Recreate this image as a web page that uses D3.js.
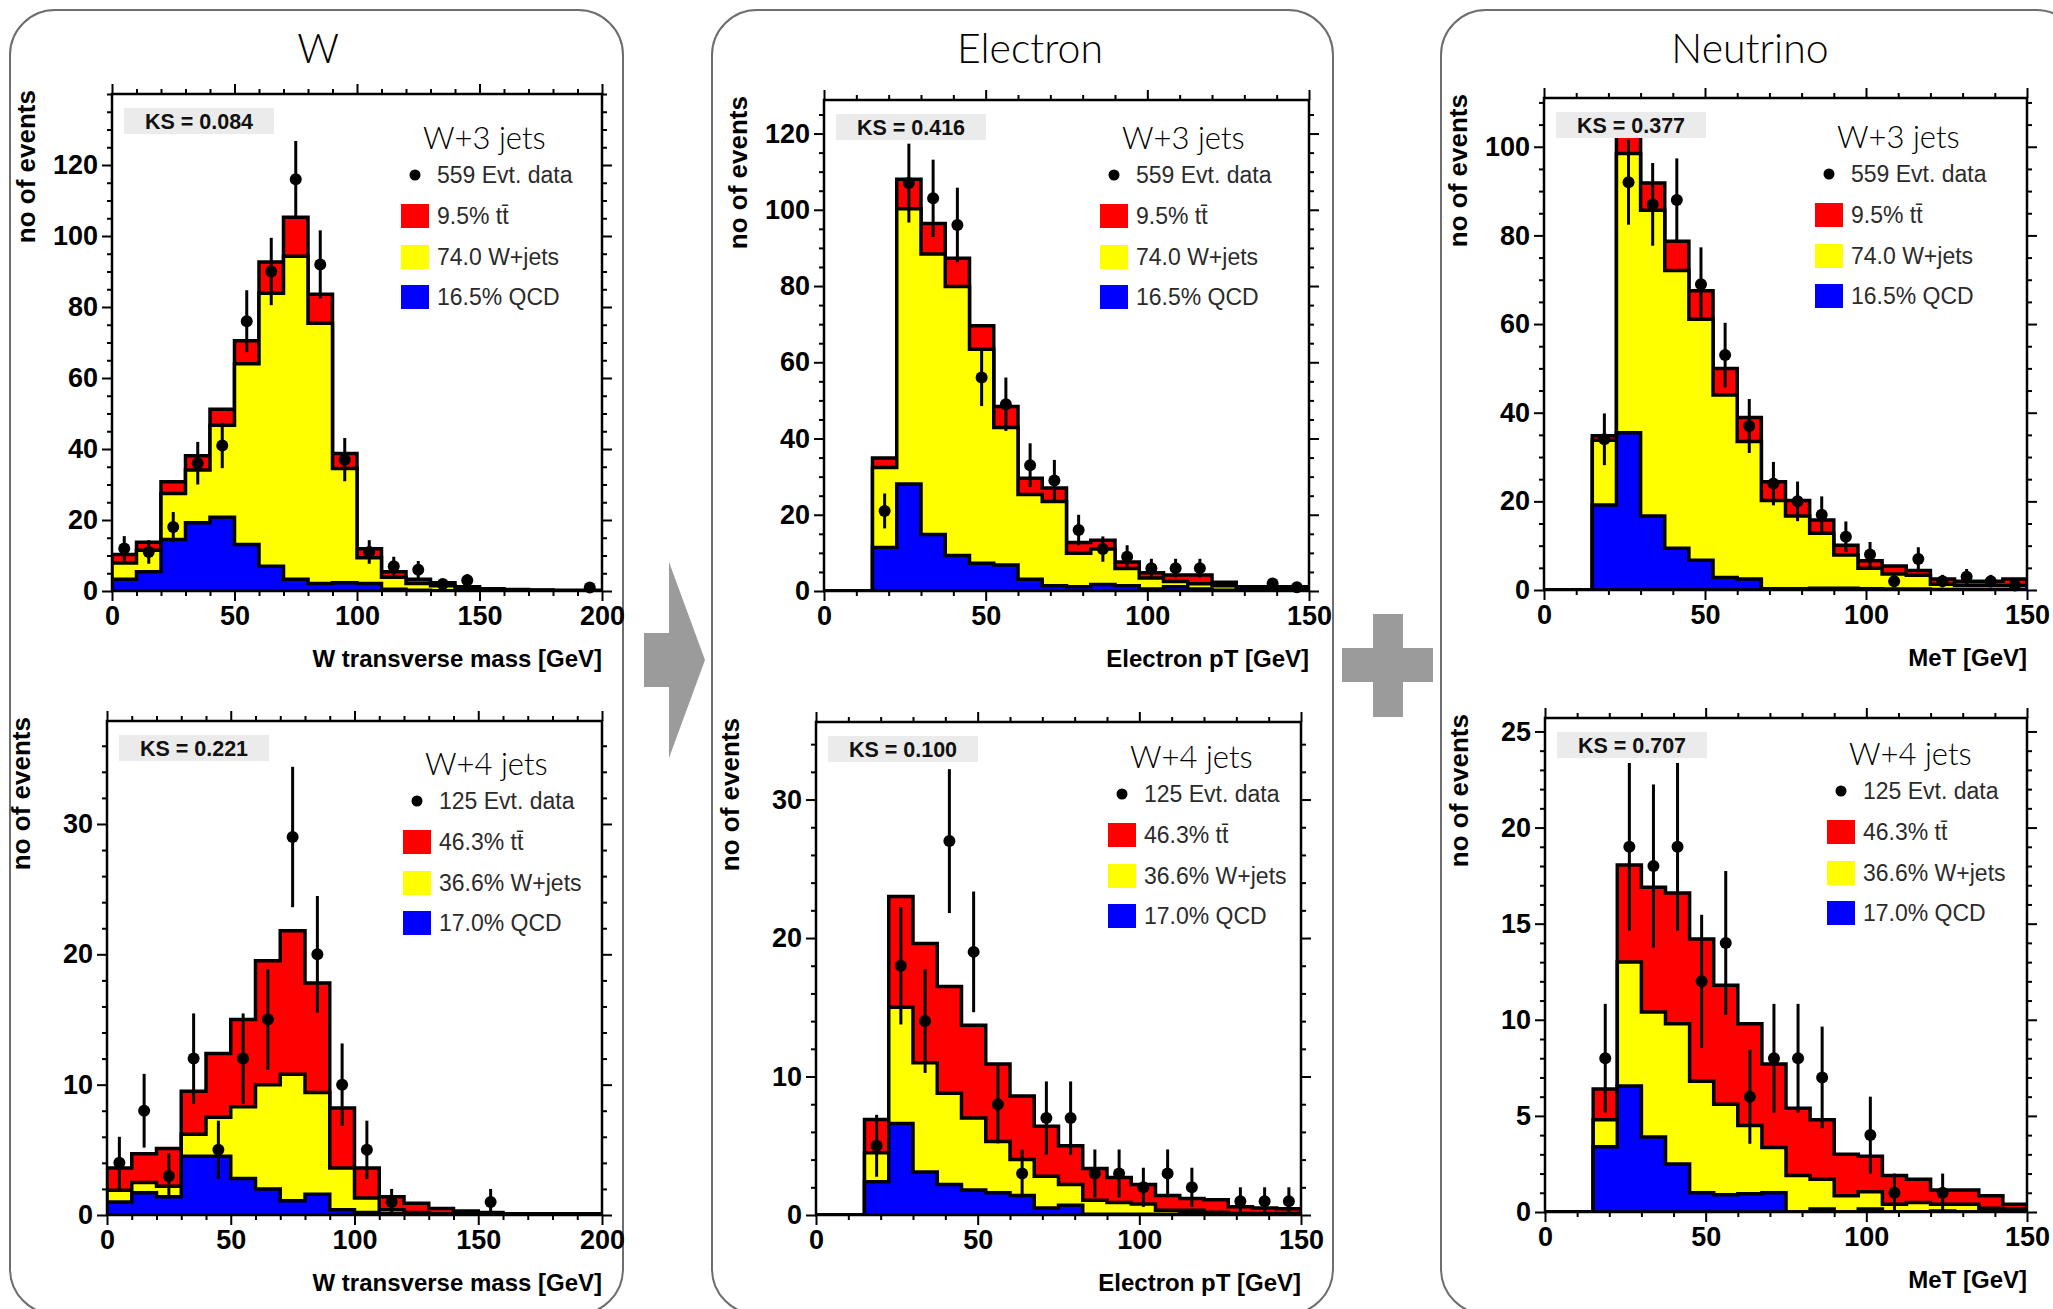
<!DOCTYPE html>
<html>
<head>
<meta charset="utf-8">
<script src="https://cdn.jsdelivr.net/npm/d3@7"></script>
<style>
  html, body { margin: 0; padding: 0; background: #fff; }
  svg { display: block; }
</style>
</head>
<body>
<svg id="chart" width="2053" height="1309"></svg>
<script>
// ---- bin edges (GeV) ----
const W_BINS  = [0,10,20,30,40,50,60,70,80,90,100,110,120,130,140,150,160,170,180,190,200];
const PT_BINS = [0,7.5,15,22.5,30,37.5,45,52.5,60,67.5,75,82.5,90,97.5,105,112.5,120,127.5,135,142.5,150];

// ---- W transverse mass, W+3 jets ----
const W3_QCD   = [3.3,5.4,14.5,19.2,20.8,13.1,7.0,3.3,2.1,2.3,2.1,0.5,0.2,0.1,0.1,0,0,0,0,0];
const W3_WJETS = [4.6,6.1,13.0,14.9,25.9,50.9,76.9,91.0,73.3,32.2,7.3,3.4,1.9,1.4,0.6,0.4,0.3,0.2,0.1,0.1];
const W3_TTBAR = [2.4,2.2,3.3,4.0,4.5,6.5,8.8,11.0,8.2,4.2,2.5,1.5,1.2,0.8,0.5,0.2,0.1,0.1,0.1,0.1];
const W3_DATA  = [12,11,18,36,41,76,90,116,92,37,11,7,6,2,3,0,0,0,0,1];

// ---- W transverse mass, W+4 jets ----
const W4_QCD   = [1.0,1.7,1.4,4.5,4.5,2.8,2.0,1.1,1.6,0.4,0.2,0.1,0.05,0,0,0,0,0,0,0];
const W4_WJETS = [0.9,0.8,0.8,1.7,3.0,5.5,8.0,9.7,7.8,3.2,1.1,0.3,0.15,0.1,0.1,0.05,0,0,0,0];
const W4_TTBAR = [1.7,2.2,2.9,3.3,4.9,6.7,9.5,11.0,8.4,4.6,2.3,1.0,0.7,0.4,0.2,0.15,0.1,0.1,0.1,0.1];
const W4_DATA  = [4,8,3,12,5,12,15,29,20,10,5,1,0,0,0,1,0,0,0,0];

// ---- Electron pT, W+3 jets ----
const E3_QCD   = [0,0,11.4,28.1,14.8,9.3,7.3,6.8,3.1,1.4,1.1,1.7,1.4,0.5,1.1,0.5,0.2,0.1,0.1,0.1];
const E3_WJETS = [0,0,21.0,72.2,73.6,70.6,56.1,36.1,22.2,22.1,8.8,9.3,4.5,2.9,1.4,1.4,1.2,0.6,0.5,0.5];
const E3_TTBAR = [0,0,2.5,7.7,8.0,7.4,6.2,5.5,4.3,3.5,2.8,2.3,1.7,1.4,1.7,2.3,0.9,0.4,0.5,0.5];
const E3_DATA  = [0,0,21,107,103,96,56,49,33,29,16,11,9,6,6,6,0,0,2,1];

// ---- Electron pT, W+4 jets ----
const E4_QCD   = [0,0,2.4,6.6,3.1,2.2,1.8,1.6,1.4,0.5,0.7,0.06,0.05,0.05,0.05,0.1,0.1,0.05,0.05,0.05];
const E4_WJETS = [0,0,2.1,8.4,7.9,6.6,5.2,3.7,2.6,2.3,1.5,1.0,0.85,0.75,0.3,0.25,0.1,0.05,0.05,0.05];
const E4_TTBAR = [0,0,2.4,8.0,8.6,7.7,6.7,5.6,4.6,3.6,2.8,2.3,1.8,1.4,1.05,0.85,0.9,0.5,0.4,0.35];
const E4_DATA  = [0,0,5,18,14,27,19,8,3,7,7,3,3,2,3,2,0,1,1,1];

// ---- Missing ET, W+3 jets ----
const N3_QCD   = [0,0,19.2,35.5,16.7,9.4,6.7,2.8,2.5,0.3,0.3,0.4,0.4,0.3,0.2,0.2,0.1,0.1,0.1,0.1];
const N3_WJETS = [0,0,14.6,63.0,69.0,62.7,54.4,41.2,31.0,19.9,16.4,12.4,7.5,4.6,3.4,3.1,1.2,0.9,0.9,0.9];
const N3_TTBAR = [0,0,1.0,4.5,6.1,6.6,6.4,6.0,5.4,4.2,3.5,3.0,2.2,1.7,1.8,1.1,1.2,1.0,1.0,1.5];
const N3_DATA  = [0,0,34,92,87,88,69,53,37,24,20,17,12,8,2,7,2,3,2,1];

// ---- Missing ET, W+4 jets ----
const N4_QCD   = [0,0,3.4,6.55,3.9,2.5,1.0,0.9,0.95,1.0,0,0.15,0,0.15,0,0,0.05,0,0,0];
const N4_WJETS = [0,0,1.4,6.45,6.5,7.3,5.8,4.7,3.55,2.35,1.9,1.55,0.85,0.9,0.4,0.5,0.35,0.4,0.2,0.15];
const N4_TTBAR = [0,0,1.6,5.05,6.5,6.8,7.4,6.2,5.3,4.35,3.5,3.1,2.15,1.85,1.5,1.2,0.75,0.75,0.65,0.25];
const N4_DATA  = [0,0,8,19,18,19,12,14,6,8,8,7,0,4,1,0,1,0,0,0];

// ---- axis tick labels ----
const W_XTICKS  = [0,50,100,150,200];
const PT_XTICKS = [0,50,100,150];
const W3_YTICKS = [0,20,40,60,80,100,120];
const W4_YTICKS = [0,10,20,30];
const E3_YTICKS = [0,20,40,60,80,100,120];
const E4_YTICKS = [0,10,20,30];
const N3_YTICKS = [0,20,40,60,80,100];
const N4_YTICKS = [0,5,10,15,20,25];

// ---- legend / annotation text ----
const LEGEND_3J = ["559 Evt. data", "9.5% tt\u0304", "74.0 W+jets", "16.5% QCD"];
const LEGEND_4J = ["125 Evt. data", "46.3% tt\u0304", "36.6% W+jets", "17.0% QCD"];
const KS_VALUES = ["KS = 0.084", "KS = 0.221", "KS = 0.416", "KS = 0.100", "KS = 0.377", "KS = 0.707"];
const COLUMN_TITLES = ["W", "Electron", "Neutrino"];

// ---------------------------------------------------------------
const FONT = "'Liberation Sans', Arial, Helvetica, sans-serif";
const TITLE_FONT = "Lato, 'Open Sans', sans-serif";
const FILL = { tt: "#ff0000", wj: "#ffff00", qcd: "#0000ff" };
const GREY = "#9b9b9b";
const TICK_FONT = 27;

const svg = d3.select("#chart");

// rounded column frames and their titles
const columns = [
  { x: 10,   w: 613, tx: 318 },
  { x: 712,  w: 621, tx: 1030 },
  { x: 1441, w: 640, tx: 1750 }
];
columns.forEach((c, i) => {
  svg.append("rect")
    .attr("x", c.x).attr("y", 10).attr("width", c.w).attr("height", 1304)
    .attr("rx", 45).attr("ry", 45)
    .attr("fill", "none").attr("stroke", "#6e6e6e").attr("stroke-width", 2);
  svg.append("text")
    .attr("x", c.tx).attr("y", 63)
    .attr("text-anchor", "middle")
    .attr("font-family", TITLE_FONT).attr("font-size", 41).attr("font-weight", 300)
    .attr("fill", "#000")
    .text(COLUMN_TITLES[i]);
});

// arrow between W and Electron, plus between Electron and Neutrino
svg.append("polygon")
  .attr("points", [[644,633],[669,633],[669,562],[705,660],[669,758],[669,687],[644,687]].map(p => p.join(",")).join(" "))
  .attr("fill", GREY);
svg.append("rect").attr("x", 1373).attr("y", 614).attr("width", 30).attr("height", 103).attr("fill", GREY);
svg.append("rect").attr("x", 1342).attr("y", 648).attr("width", 91).attr("height", 34).attr("fill", GREY);

const panels = [
  { id: "w3", L: 112, R: 602, T: 94, B: 591, bins: W_BINS, xmax: 200, ymax: 140,
    qcd: W3_QCD, wj: W3_WJETS, tt: W3_TTBAR, data: W3_DATA,
    xt: W_XTICKS, yt: W3_YTICKS, yMinor: 5, ks: KS_VALUES[0],
    header: "W+3 jets", legend: LEGEND_3J, legX: 401, legDy: 0, xTitle: "W transverse mass [GeV]" },
  { id: "w4", L: 107, R: 602, T: 721, B: 1215, bins: W_BINS, xmax: 200, ymax: 37.9,
    qcd: W4_QCD, wj: W4_WJETS, tt: W4_TTBAR, data: W4_DATA,
    xt: W_XTICKS, yt: W4_YTICKS, yMinor: 2, ks: KS_VALUES[1],
    header: "W+4 jets", legend: LEGEND_4J, legX: 403, legDy: 2, xTitle: "W transverse mass [GeV]" },
  { id: "e3", L: 824, R: 1309, T: 100, B: 591, bins: PT_BINS, xmax: 150, ymax: 128.8,
    qcd: E3_QCD, wj: E3_WJETS, tt: E3_TTBAR, data: E3_DATA,
    xt: PT_XTICKS, yt: E3_YTICKS, yMinor: 5, ks: KS_VALUES[2],
    header: "W+3 jets", legend: LEGEND_3J, legX: 1100, legDy: 0, xTitle: "Electron pT [GeV]" },
  { id: "e4", L: 816, R: 1301, T: 722, B: 1215, bins: PT_BINS, xmax: 150, ymax: 35.6,
    qcd: E4_QCD, wj: E4_WJETS, tt: E4_TTBAR, data: E4_DATA,
    xt: PT_XTICKS, yt: E4_YTICKS, yMinor: 2, ks: KS_VALUES[3],
    header: "W+4 jets", legend: LEGEND_4J, legX: 1108, legDy: -5, xTitle: "Electron pT [GeV]" },
  { id: "n3", L: 1544, R: 2027, T: 98, B: 590, bins: PT_BINS, xmax: 150, ymax: 111,
    qcd: N3_QCD, wj: N3_WJETS, tt: N3_TTBAR, data: N3_DATA,
    xt: PT_XTICKS, yt: N3_YTICKS, yMinor: 5, ks: KS_VALUES[4],
    header: "W+3 jets", legend: LEGEND_3J, legX: 1815, legDy: 0, xTitle: "MeT [GeV]" },
  { id: "n4", L: 1545, R: 2027, T: 718, B: 1212, bins: PT_BINS, xmax: 150, ymax: 25.7,
    qcd: N4_QCD, wj: N4_WJETS, tt: N4_TTBAR, data: N4_DATA,
    xt: PT_XTICKS, yt: N4_YTICKS, yMinor: 1, ks: KS_VALUES[5],
    header: "W+4 jets", legend: LEGEND_4J, legX: 1827, legDy: -5, xTitle: "MeT [GeV]" }
];

const defs = svg.append("defs");

function styleAxis(g) {
  g.select(".domain").remove();
  g.selectAll(".tick line").attr("stroke", "#000").attr("stroke-width", 2);
  g.selectAll(".tick text")
    .attr("font-family", FONT).attr("font-weight", "bold")
    .attr("font-size", TICK_FONT).attr("fill", "#000");
}

function drawPanel(p) {
  const g = svg.append("g").attr("class", "panel-" + p.id);
  const x = d3.scaleLinear().domain([0, p.xmax]).range([p.L, p.R]);
  const y = d3.scaleLinear().domain([0, p.ymax]).range([p.B, p.T]);
  const nb = p.bins.length - 1;

  defs.append("clipPath").attr("id", "clip-" + p.id)
    .append("rect").attr("x", p.L).attr("y", p.T)
    .attr("width", p.R - p.L).attr("height", p.B - p.T);

  // stacked histogram: total (ttbar on top), W+jets + QCD, QCD
  const cumQcd = p.qcd.slice();
  const cumWj = p.qcd.map((v, i) => v + p.wj[i]);
  const cumTot = cumWj.map((v, i) => v + p.tt[i]);
  const stepArea = d3.area()
    .curve(d3.curveStepAfter)
    .x(d => x(d[0]))
    .y0(y(0))
    .y1(d => y(d[1]));
  const toSteps = arr => p.bins.map((e, i) => [e, arr[Math.min(i, nb - 1)]]);

  const hist = g.append("g").attr("clip-path", `url(#clip-${p.id})`);
  hist.selectAll("path.layer")
    .data([{ v: cumTot, c: FILL.tt }, { v: cumWj, c: FILL.wj }, { v: cumQcd, c: FILL.qcd }])
    .join("path")
    .attr("class", "layer")
    .attr("d", d => stepArea(toSteps(d.v)))
    .attr("fill", d => d.c)
    .attr("stroke", "#000").attr("stroke-width", 3.5)
    .attr("stroke-linejoin", "miter");

  // data points with Poisson error bars
  const pts = p.data.map((n, i) => ({ n, c: (p.bins[i] + p.bins[i + 1]) / 2 })).filter(d => d.n > 0);
  g.selectAll("line.err").data(pts).join("line")
    .attr("class", "err")
    .attr("x1", d => x(d.c)).attr("x2", d => x(d.c))
    .attr("y1", d => y(Math.max(0, d.n - Math.sqrt(d.n))))
    .attr("y2", d => y(d.n + Math.sqrt(d.n)))
    .attr("stroke", "#000").attr("stroke-width", 3);
  g.selectAll("circle.pt").data(pts).join("circle")
    .attr("class", "pt")
    .attr("cx", d => x(d.c)).attr("cy", d => y(d.n))
    .attr("r", 6).attr("fill", "#000");

  // frame
  g.append("rect")
    .attr("x", p.L).attr("y", p.T).attr("width", p.R - p.L).attr("height", p.B - p.T)
    .attr("fill", "none").attr("stroke", "#000").attr("stroke-width", 2.5);

  // ticks on all four sides, pointing outward
  const yMinor = d3.range(0, p.ymax + 1e-9, p.yMinor).filter(v => !p.yt.includes(v));
  const xMinor = d3.range(0, p.xmax + 1e-9, 10).filter(v => !p.xt.includes(v));

  g.append("g").attr("transform", `translate(${p.L},0)`)
    .call(d3.axisLeft(y).tickValues(p.yt).tickSize(10).tickPadding(4).tickSizeOuter(0))
    .call(styleAxis);
  g.append("g").attr("transform", `translate(${p.L},0)`)
    .call(d3.axisLeft(y).tickValues(yMinor).tickSize(5).tickFormat(""))
    .call(styleAxis);
  g.append("g").attr("transform", `translate(${p.R},0)`)
    .call(d3.axisRight(y).tickValues(p.yt).tickSize(10).tickFormat(""))
    .call(styleAxis);
  g.append("g").attr("transform", `translate(${p.R},0)`)
    .call(d3.axisRight(y).tickValues(yMinor).tickSize(5).tickFormat(""))
    .call(styleAxis);

  g.append("g").attr("transform", `translate(0,${p.B})`)
    .call(d3.axisBottom(x).tickValues(p.xt).tickSize(10).tickPadding(5).tickSizeOuter(0))
    .call(styleAxis);
  g.append("g").attr("transform", `translate(0,${p.B})`)
    .call(d3.axisBottom(x).tickValues(xMinor).tickSize(5).tickFormat(""))
    .call(styleAxis);
  g.append("g").attr("transform", `translate(0,${p.T})`)
    .call(d3.axisTop(x).tickValues(p.xt).tickSize(10).tickFormat(""))
    .call(styleAxis);
  g.append("g").attr("transform", `translate(0,${p.T})`)
    .call(d3.axisTop(x).tickValues(xMinor).tickSize(5).tickFormat(""))
    .call(styleAxis);

  // axis titles
  g.append("text")
    .attr("x", p.R).attr("y", p.B + 76)
    .attr("text-anchor", "end")
    .attr("font-family", FONT).attr("font-weight", "bold").attr("font-size", 24)
    .attr("fill", "#000")
    .text(p.xTitle);
  g.append("text")
    .attr("transform", `translate(${p.L - 86},${p.T - 4}) rotate(-90)`)
    .attr("dy", "0.35em")
    .attr("text-anchor", "end")
    .attr("font-family", FONT).attr("font-weight", "bold").attr("font-size", 26)
    .attr("fill", "#000")
    .text("no of events");

  // KS box
  g.append("rect")
    .attr("x", p.L + 12).attr("y", p.T + 14).attr("width", 150).attr("height", 26)
    .attr("fill", "#ebebeb");
  g.append("text")
    .attr("x", p.L + 87).attr("y", p.T + 35)
    .attr("text-anchor", "middle")
    .attr("font-family", FONT).attr("font-weight", "bold").attr("font-size", 21.5)
    .attr("fill", "#111")
    .text(p.ks);

  // legend
  const bx = p.legX;
  const rowY = [-416, -375, -334, -294].map(o => p.B + o + p.legDy);
  g.append("text")
    .attr("x", bx + 22).attr("y", p.B - 453 + p.legDy + 11)
    .attr("font-family", TITLE_FONT).attr("font-weight", 300).attr("font-size", 31)
    .attr("fill", "#000")
    .text(p.header);
  g.append("circle").attr("cx", bx + 14).attr("cy", rowY[0]).attr("r", 5.5).attr("fill", "#000");
  [FILL.tt, FILL.wj, FILL.qcd].forEach((c, i) => {
    g.append("rect")
      .attr("x", bx).attr("y", rowY[i + 1] - 12).attr("width", 28).attr("height", 24)
      .attr("fill", c);
  });
  g.selectAll("text.leg").data(p.legend).join("text")
    .attr("class", "leg")
    .attr("x", bx + 36).attr("y", (d, i) => rowY[i] + 8)
    .attr("font-family", FONT).attr("font-size", 23)
    .attr("fill", "#2b2b2b")
    .text(d => d);
}

panels.forEach(drawPanel);
</script>
</body>
</html>
